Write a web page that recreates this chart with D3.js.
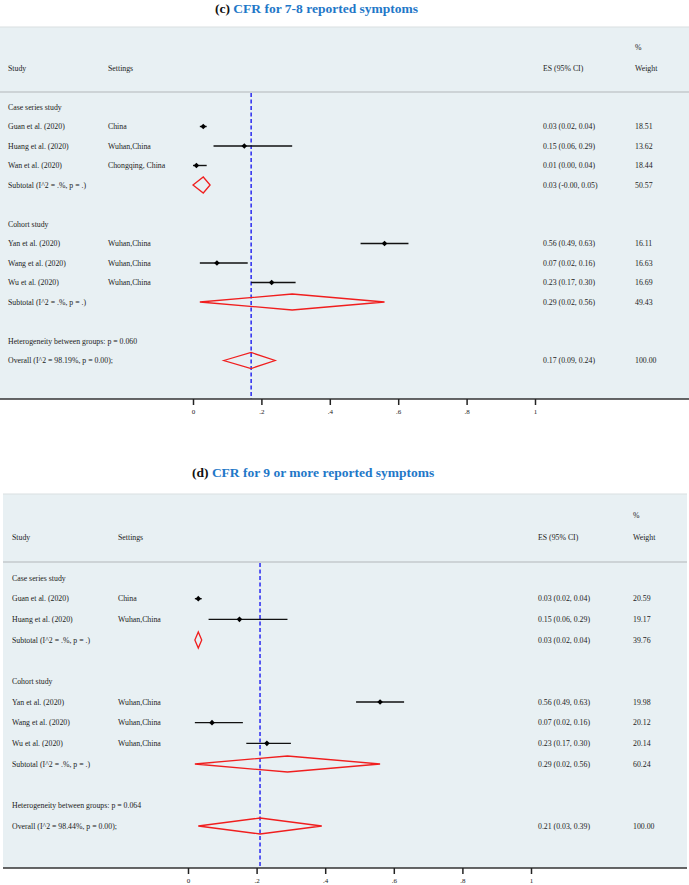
<!DOCTYPE html>
<html>
<head>
<meta charset="utf-8">
<script src="https://cdn.jsdelivr.net/npm/d3@7"></script>
<style>
  html, body { margin: 0; padding: 0; background: #ffffff; }
  svg { display: block; }
  text { font-family: "Liberation Serif", "Times New Roman", serif; }
</style>
</head>
<body>
<div id="chart"></div>
<script>
// ---------- DATA ----------
const titlePrefixes = ["(c) ", "(d) "];
const titleTexts = ["CFR for 7-8 reported symptoms", "CFR for 9 or more reported symptoms"];

const tickValues = [0, 0.2, 0.4, 0.6, 0.8, 1];
const tickLabels = ["0", ".2", ".4", ".6", ".8", "1"];

// Panel (c)
const caseStudiesC = ["Guan et al. (2020)", "Huang et al. (2020)", "Wan et al. (2020)"];
const caseSettingsC = ["China", "Wuhan,China", "Chongqing, China"];
const caseEsC = [0.03, 0.15, 0.01];
const caseLoC = [0.02, 0.06, 0.00];
const caseHiC = [0.04, 0.29, 0.04];
const caseWtC = ["18.51", "13.62", "18.44"];
const caseSubC = { es: 0.03, lo: -0.00, hi: 0.05, text: "0.03 (-0.00, 0.05)", wt: "50.57" };

const cohortStudiesC = ["Yan et al. (2020)", "Wang et al. (2020)", "Wu et al. (2020)"];
const cohortSettingsC = ["Wuhan,China", "Wuhan,China", "Wuhan,China"];
const cohortEsC = [0.56, 0.07, 0.23];
const cohortLoC = [0.49, 0.02, 0.17];
const cohortHiC = [0.63, 0.16, 0.30];
const cohortWtC = ["16.11", "16.63", "16.69"];
const cohortSubC = { es: 0.29, lo: 0.02, hi: 0.56, text: "0.29 (0.02, 0.56)", wt: "49.43" };

const hetC = "Heterogeneity between groups: p = 0.060";
const overallLabelC = "Overall  (I^2 = 98.19%, p = 0.00);";
const overallC = { es: 0.17, lo: 0.09, hi: 0.24, text: "0.17 (0.09, 0.24)", wt: "100.00" };

// Panel (d)
const caseStudiesD = ["Guan et al. (2020)", "Huang et al. (2020)"];
const caseSettingsD = ["China", "Wuhan,China"];
const caseEsD = [0.03, 0.15];
const caseLoD = [0.02, 0.06];
const caseHiD = [0.04, 0.29];
const caseWtD = ["20.59", "19.17"];
const caseSubD = { es: 0.03, lo: 0.02, hi: 0.04, text: "0.03 (0.02, 0.04)", wt: "39.76" };

const cohortStudiesD = ["Yan et al. (2020)", "Wang et al. (2020)", "Wu et al. (2020)"];
const cohortSettingsD = ["Wuhan,China", "Wuhan,China", "Wuhan,China"];
const cohortEsD = [0.56, 0.07, 0.23];
const cohortLoD = [0.49, 0.02, 0.17];
const cohortHiD = [0.63, 0.16, 0.30];
const cohortWtD = ["19.98", "20.12", "20.14"];
const cohortSubD = { es: 0.29, lo: 0.02, hi: 0.56, text: "0.29 (0.02, 0.56)", wt: "60.24" };

const hetD = "Heterogeneity between groups: p = 0.064";
const overallLabelD = "Overall  (I^2 = 98.44%, p = 0.00);";
const overallD = { es: 0.21, lo: 0.03, hi: 0.39, text: "0.21 (0.03, 0.39)", wt: "100.00" };

const subtotalLabel = "Subtotal  (I^2 = .%, p = .)";

// ---------- BUILD ROWS ----------
function fmtEs(e, l, h) { return e.toFixed(2) + " (" + l.toFixed(2) + ", " + h.toFixed(2) + ")"; }

function buildRows(cs, cset, ces, clo, chi, cwt, csub, hs, hset, hes, hlo, hhi, hwt, hsub, het, ovLabel, ov) {
  const rows = [];
  let i = 0;
  rows.push({ idx: i++, type: "group", label: "Case series study" });
  cs.forEach((s, k) => rows.push({ idx: i++, type: "study", label: s, setting: cset[k], es: ces[k], lo: clo[k], hi: chi[k], text: fmtEs(ces[k], clo[k], chi[k]), wt: cwt[k] }));
  rows.push(Object.assign({ idx: i++, type: "diamond", label: subtotalLabel }, csub));
  i++;
  rows.push({ idx: i++, type: "group", label: "Cohort study" });
  hs.forEach((s, k) => rows.push({ idx: i++, type: "study", label: s, setting: hset[k], es: hes[k], lo: hlo[k], hi: hhi[k], text: fmtEs(hes[k], hlo[k], hhi[k]), wt: hwt[k] }));
  rows.push(Object.assign({ idx: i++, type: "diamond", label: subtotalLabel }, hsub));
  i++;
  rows.push({ idx: i++, type: "group", label: het });
  rows.push(Object.assign({ idx: i++, type: "diamond", label: ovLabel }, ov));
  return rows;
}

const rowsC = buildRows(caseStudiesC, caseSettingsC, caseEsC, caseLoC, caseHiC, caseWtC, caseSubC,
  cohortStudiesC, cohortSettingsC, cohortEsC, cohortLoC, cohortHiC, cohortWtC, cohortSubC, hetC, overallLabelC, overallC);
const rowsD = buildRows(caseStudiesD, caseSettingsD, caseEsD, caseLoD, caseHiD, caseWtD, caseSubD,
  cohortStudiesD, cohortSettingsD, cohortEsD, cohortLoD, cohortHiD, cohortWtD, cohortSubD, hetD, overallLabelD, overallD);

// ---------- LAYOUT ----------
const W = 689, H = 885;
const panels = [
  { rows: rowsC, overall: overallC, titleX: 215, titleY: 13, bgX: 0, bgW: 689, bgTop: 27, pctY: 47, headY: 68, lineY: 92,
    firstRowY: 107, lastRowY: 360.5, axisY: 399, x0: 193, x1: 535, studyX: 8, setX: 108, esX: 543, wtX: 635 },
  { rows: rowsD, overall: overallD, titleX: 192, titleY: 477, bgX: 3, bgW: 684, bgTop: 494, pctY: 515, headY: 537, lineY: 562,
    firstRowY: 578, lastRowY: 826, axisY: 868, x0: 188, x1: 531, studyX: 12, setX: 118, esX: 538, wtX: 633 }
];

const svg = d3.select("#chart").append("svg").attr("width", W).attr("height", H);

const textColor = "#222";
const fs = 7.8;

panels.forEach((p, pi) => {
  const g = svg.append("g");
  const x = d3.scaleLinear().domain([0, 1]).range([p.x0, p.x1]);
  const maxIdx = d3.max(p.rows, r => r.idx);
  const y = d3.scaleLinear().domain([0, maxIdx]).range([p.firstRowY, p.lastRowY]);

  // Title
  const t = g.append("text").attr("x", p.titleX).attr("y", p.titleY)
    .attr("font-size", 13.5).attr("font-weight", "bold");
  t.append("tspan").attr("fill", "#111").text(titlePrefixes[pi]);
  t.append("tspan").attr("fill", "#1f78c8").text(titleTexts[pi]);

  // Background
  g.append("rect").attr("x", p.bgX).attr("y", p.bgTop).attr("width", p.bgW).attr("height", p.axisY - p.bgTop)
    .attr("fill", "#e8f0f3");
  g.append("line").attr("x1", p.bgX).attr("x2", p.bgX + p.bgW).attr("y1", p.bgTop).attr("y2", p.bgTop)
    .attr("stroke", "#d9dfe2").attr("stroke-width", 1.2);
  // Header separator
  g.append("line").attr("x1", p.bgX).attr("x2", p.bgX + p.bgW).attr("y1", p.lineY).attr("y2", p.lineY)
    .attr("stroke", "#c5cacd").attr("stroke-width", 1.5);

  // Header texts
  const head = [
    { x: p.wtX, y: p.pctY, t: "%" },
    { x: p.studyX, y: p.headY, t: "Study" },
    { x: p.setX, y: p.headY, t: "Settings" },
    { x: p.esX, y: p.headY, t: "ES (95% CI)" },
    { x: p.wtX, y: p.headY, t: "Weight" }
  ];
  g.selectAll(".head").data(head).join("text")
    .attr("x", d => d.x).attr("y", d => d.y).attr("dy", "0.35em")
    .attr("font-size", fs).attr("fill", textColor).text(d => d.t);

  // Dashed overall line
  g.append("line").attr("x1", x(p.overall.es)).attr("x2", x(p.overall.es))
    .attr("y1", p.lineY + 1).attr("y2", p.axisY)
    .attr("stroke", "#1c1cf0").attr("stroke-width", 1.4).attr("stroke-dasharray", "4,2.5");

  // Row labels
  g.selectAll(".lab").data(p.rows).join("text")
    .attr("x", p.studyX).attr("y", d => y(d.idx)).attr("dy", "0.35em")
    .attr("font-size", fs).attr("fill", textColor).text(d => d.label);
  g.selectAll(".set").data(p.rows.filter(r => r.setting)).join("text")
    .attr("x", p.setX).attr("y", d => y(d.idx)).attr("dy", "0.35em")
    .attr("font-size", fs).attr("fill", textColor).text(d => d.setting);
  g.selectAll(".es").data(p.rows.filter(r => r.text)).join("text")
    .attr("x", p.esX).attr("y", d => y(d.idx)).attr("dy", "0.35em")
    .attr("font-size", fs).attr("fill", textColor).text(d => d.text);
  g.selectAll(".wt").data(p.rows.filter(r => r.wt)).join("text")
    .attr("x", p.wtX).attr("y", d => y(d.idx)).attr("dy", "0.35em")
    .attr("font-size", fs).attr("fill", textColor).text(d => d.wt);

  // Study CI lines and markers
  const studies = p.rows.filter(r => r.type === "study");
  g.selectAll(".ci").data(studies).join("line")
    .attr("x1", d => x(d.lo)).attr("x2", d => x(d.hi))
    .attr("y1", d => y(d.idx)).attr("y2", d => y(d.idx))
    .attr("stroke", "#111").attr("stroke-width", 1.4);
  g.selectAll(".pt").data(studies).join("path")
    .attr("d", d => {
      const cx = x(d.es), cy = y(d.idx), r = 2.8;
      return `M${cx - r},${cy}L${cx},${cy - r}L${cx + r},${cy}L${cx},${cy + r}Z`;
    })
    .attr("fill", "#000");

  // Diamonds
  const dia = p.rows.filter(r => r.type === "diamond");
  g.selectAll(".dia").data(dia).join("path")
    .attr("d", d => {
      const cy = y(d.idx), h = 8;
      return `M${x(d.lo)},${cy}L${x(d.es)},${cy - h}L${x(d.hi)},${cy}L${x(d.es)},${cy + h}Z`;
    })
    .attr("fill", "none").attr("stroke", "#f01e1e").attr("stroke-width", 1.3);

  // Axis
  g.append("line").attr("x1", p.bgX).attr("x2", p.bgX + p.bgW).attr("y1", p.axisY).attr("y2", p.axisY)
    .attr("stroke", "#333").attr("stroke-width", 1.6);
  const axis = d3.axisBottom(x).tickValues(tickValues).tickSize(6).tickPadding(4)
    .tickFormat((d, i) => tickLabels[i]);
  const ag = g.append("g").attr("transform", `translate(0,${p.axisY})`).call(axis);
  ag.select(".domain").remove();
  ag.selectAll(".tick line").attr("stroke", "#222").attr("stroke-width", 1.5);
  ag.selectAll(".tick text").attr("font-size", 7).attr("fill", "#222")
    .attr("font-family", "Liberation Serif, serif");
});
</script>
</body>
</html>
